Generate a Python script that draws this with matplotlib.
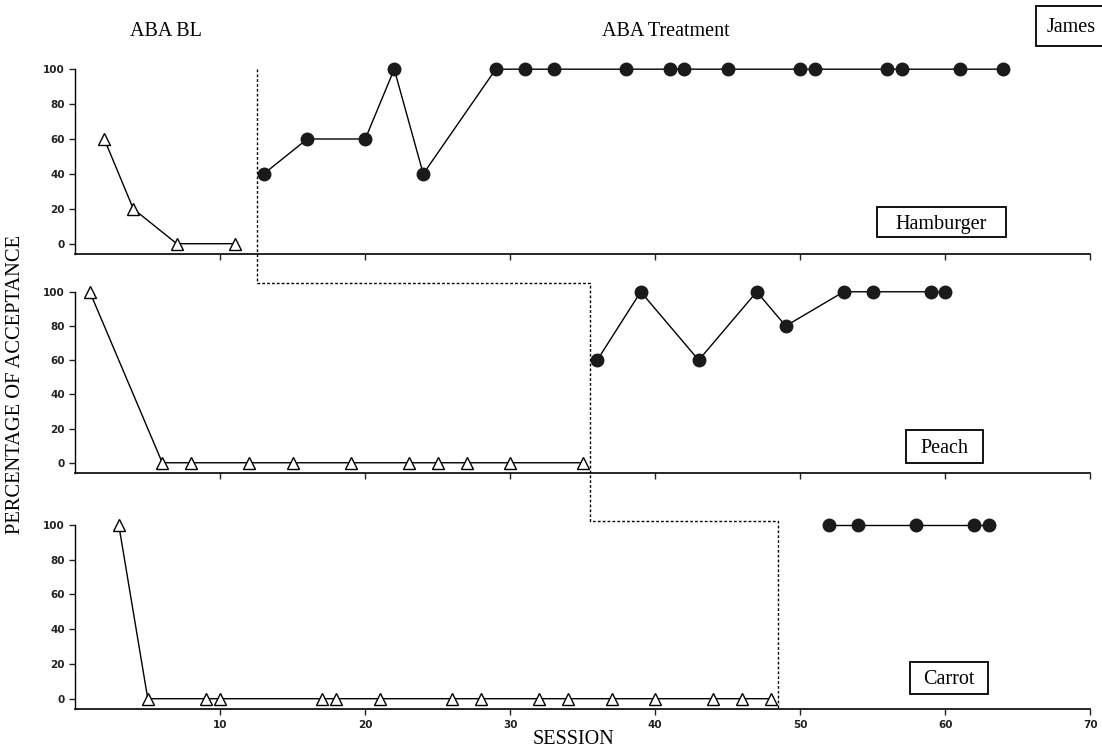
import matplotlib
matplotlib.use("Agg")
import matplotlib.pyplot as plt
from matplotlib.lines import Line2D
from matplotlib.patches import Rectangle

# ---------------------------------------------------------------------------
# Data
# ---------------------------------------------------------------------------
ham_bl_x = [2, 4, 7, 11]
ham_bl_y = [60, 20, 0, 0]
ham_tx_x = [13, 16, 20, 22, 24, 29, 31, 33, 38, 41, 42, 45, 50, 51, 56, 57, 61, 64]
ham_tx_y = [40, 60, 60, 100, 40, 100, 100, 100, 100, 100, 100, 100, 100, 100,
            100, 100, 100, 100]

peach_bl_x = [1, 6, 8, 12, 15, 19, 23, 25, 27, 30, 35]
peach_bl_y = [100, 0, 0, 0, 0, 0, 0, 0, 0, 0, 0]
peach_tx_x = [36, 39, 43, 47, 49, 53, 55, 59, 60]
peach_tx_y = [60, 100, 60, 100, 80, 100, 100, 100, 100]

carrot_bl_x = [3, 5, 9, 10, 17, 18, 21, 26, 28, 32, 34, 37, 40, 44, 46, 48]
carrot_bl_y = [100, 0, 0, 0, 0, 0, 0, 0, 0, 0, 0, 0, 0, 0, 0, 0]
carrot_tx_x = [52, 54, 58, 62, 63]
carrot_tx_y = [100, 100, 100, 100, 100]

food_labels = ["Hamburger", "Peach", "Carrot"]
phase_x = [12.5, 35.5, 48.5]     # phase-change lines per tier
x_ticks = [10, 20, 30, 40, 50, 60, 70]
y_ticks = [0, 20, 40, 60, 80, 100]

SERIF = "Liberation Serif"
W, H = 1102, 752

fig = plt.figure(figsize=(W / 100, H / 100), dpi=100)


def px(x, y):
    """pixel (from top-left) -> figure fraction"""
    return x / W, 1 - y / H


def px_box(x0, y0, x1, y1):
    fx, fy = px(x0, y1)
    fig.add_artist(Rectangle((fx, fy), (x1 - x0) / W, (y1 - y0) / H,
                             transform=fig.transFigure, fc="white",
                             ec="black", lw=1.3, zorder=5))


# axes rects in figure fraction (left, bottom, width, height)
rects = [
    (0.0683, 0.662, 0.921, 0.246),
    (0.0683, 0.371, 0.921, 0.241),
    (0.0683, 0.057, 0.921, 0.245),
]
series = [
    (ham_bl_x, ham_bl_y, ham_tx_x, ham_tx_y),
    (peach_bl_x, peach_bl_y, peach_tx_x, peach_tx_y),
    (carrot_bl_x, carrot_bl_y, carrot_tx_x, carrot_tx_y),
]
# label boxes in pixels: x0, y0, x1, y1
label_boxes = [(877, 207, 1006, 237), (906, 430, 983, 463), (910, 662, 988, 694)]

axes = []
for i, (rect, (bx, by, tx, ty)) in enumerate(zip(rects, series)):
    ax = fig.add_axes(rect)
    ax.plot(bx, by, "-", color="black", lw=1.0, marker="^", markersize=8,
            mfc="white", mec="black", mew=1.0, clip_on=False, zorder=3)
    ax.plot(tx, ty, "-", color="black", lw=1.0, marker="o", markersize=9,
            mfc="#1a1a1a", mec="#1a1a1a", clip_on=False, zorder=3)
    ax.set_xlim(0, 70)
    ax.set_ylim(-6, 100)
    ax.set_xticks(x_ticks)
    ax.set_yticks(y_ticks)
    for s in ("top", "right"):
        ax.spines[s].set_visible(False)
    ax.spines["left"].set_linewidth(1.0)
    ax.spines["bottom"].set_linewidth(1.2)
    ax.tick_params(direction="out", length=4, width=1.0, colors="#222222",
                   labelsize=7.5)
    for lab in ax.get_yticklabels() + ax.get_xticklabels():
        lab.set_fontweight("bold")
    if i < 2:
        ax.set_xticklabels([])
    ax.patch.set_visible(False)

    x0, y0, x1, y1 = label_boxes[i]
    px_box(x0, y0, x1, y1)
    cx, cy = px((x0 + x1) / 2, (y0 + y1) / 2 + 2)
    fig.text(cx, cy, food_labels[i], family=SERIF, fontsize=14.5,
             ha="center", va="center", zorder=6)
    axes.append(ax)

# stepped phase-change line, built from data coords of each tier
def to_fig(ax, x, y):
    return fig.transFigure.inverted().transform(ax.transData.transform((x, y)))

top, mid, bot = axes
pts = [
    to_fig(top, phase_x[0], 100),
    to_fig(mid, phase_x[0], 105),
    to_fig(mid, phase_x[1], 105),
    to_fig(bot, phase_x[1], 102),
    to_fig(bot, phase_x[2], 102),
    to_fig(bot, phase_x[2], -6),
]
fig.add_artist(Line2D([p[0] for p in pts], [p[1] for p in pts],
                      transform=fig.transFigure, color="black", lw=1.0,
                      linestyle=(0, (2.0, 1.5))))

# titles and labels
fig.text(*px(166, 32), "ABA BL", family=SERIF, fontsize=14.5,
         ha="center", va="center")
fig.text(*px(666, 32), "ABA Treatment", family=SERIF, fontsize=14.5,
         ha="center", va="center")
px_box(1036, 6, 1115, 46)
fig.text(*px(1047, 28), "James", family=SERIF, fontsize=14.5,
         ha="left", va="center", zorder=6)
fig.text(*px(16, 385), "PERCENTAGE OF ACCEPTANCE", family=SERIF,
         fontsize=14.8, rotation=90, ha="center", va="center")
fig.text(*px(573, 740), "SESSION", family=SERIF, fontsize=14.5,
         ha="center", va="center")

fig.savefig("out.png", dpi=100)
